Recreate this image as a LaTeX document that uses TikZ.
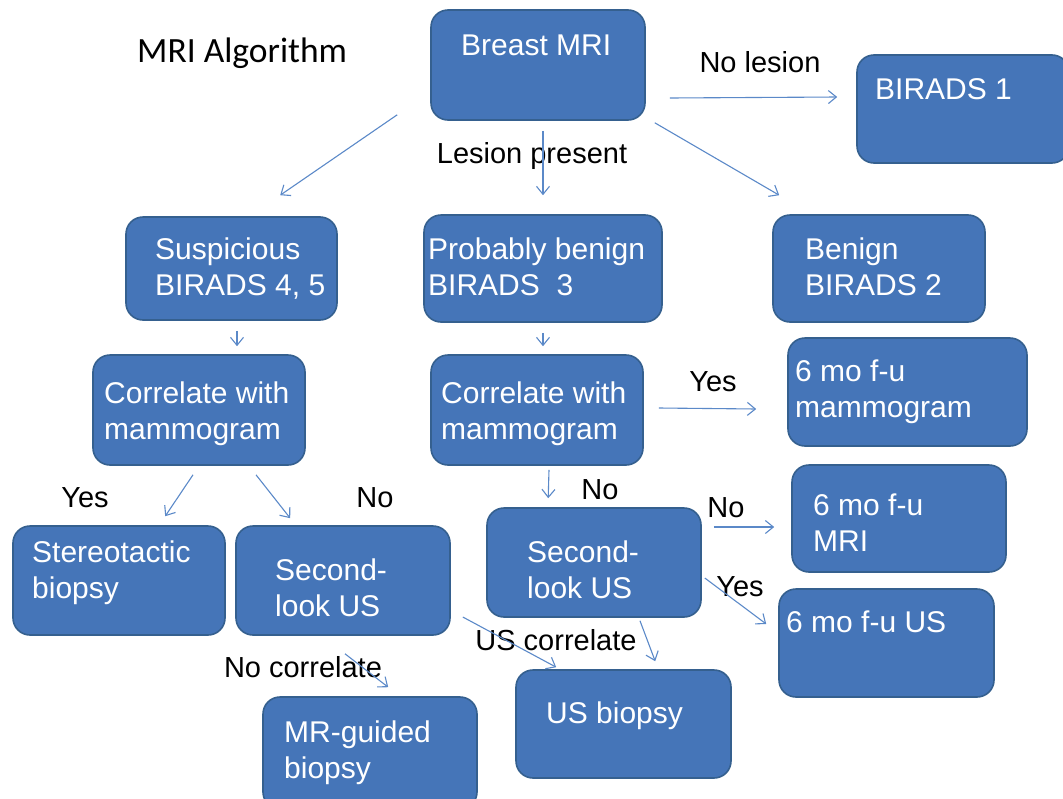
\documentclass[tikz,border=0pt]{standalone}
\usepackage{fontspec}
\setmainfont{Liberation Sans}
\newfontfamily\titlefont{Carlito}
\usetikzlibrary{arrows.meta}
\definecolor{boxfill}{HTML}{4575B8}
\definecolor{boxline}{HTML}{35608F}
\definecolor{arrowblue}{HTML}{5B89C8}
\tikzset{
  panel/.style={draw=boxline, line width=1.6pt, fill=boxfill, rounded corners=17pt, inner sep=0pt},
  boxtext/.style={text=white, align=left, anchor=base west, inner sep=0pt, font=\fontsize{30}{36}\selectfont},
  tag/.style={text=black, anchor=base, inner sep=0pt, font=\fontsize{29}{34}\selectfont},
  link/.style={draw=arrowblue, line width=1.1pt, -{Straight Barb[length=8pt,width=13pt,line width=1.1pt]}}
}
\begin{document}
\begin{tikzpicture}[x=1pt,y=-1pt]
\useasboundingbox (0,0) rectangle (1063,798);

% boxes
\node[panel, minimum width=214pt, minimum height=110pt] (mri) at (538,65) {};
\node[panel, minimum width=212pt, minimum height=108pt] (b1) at (963,109) {};
\node[panel, minimum width=211pt, minimum height=103pt] (susp) at (231.5,268.5) {};
\node[panel, minimum width=238pt, minimum height=107pt] (prob) at (543,268.5) {};
\node[panel, minimum width=212pt, minimum height=107pt] (ben) at (879,268.5) {};
\node[panel, minimum width=212pt, minimum height=110pt] (corL) at (199,410) {};
\node[panel, minimum width=212pt, minimum height=110pt] (corM) at (537,410) {};
\node[panel, minimum width=239pt, minimum height=108pt] (fmam) at (907.5,392) {};
\node[panel, minimum width=212pt, minimum height=109pt] (ster) at (119,580.5) {};
\node[panel, minimum width=214pt, minimum height=109pt] (slL) at (343,580.5) {};
\node[panel, minimum width=214pt, minimum height=109pt] (slM) at (594,562.5) {};
\node[panel, minimum width=214pt, minimum height=107pt] (fmri) at (899,518.5) {};
\node[panel, minimum width=215pt, minimum height=108pt] (fus) at (886.5,643) {};
\node[panel, minimum width=214pt, minimum height=112pt] (mrg) at (370,753) {};
\node[panel, minimum width=215pt, minimum height=108pt] (usb) at (623.5,724) {};

% box texts (anchored on the baseline of the last line)
\node[boxtext] (tmri) at (461,55) {Breast MRI};
\node[boxtext] (tb1) at (875,99) {BIRADS 1};
\node[boxtext] (tsusp) at (155,295) {Suspicious\\BIRADS 4, 5};
\node[boxtext] (tprob) at (428,295) {Probably benign\\BIRADS\ \ 3};
\node[boxtext] (tben) at (805,295) {Benign\\BIRADS 2};
\node[boxtext] (tcorL) at (104,439) {Correlate with\\mammogram};
\node[boxtext] (tcorM) at (441,439) {Correlate with\\mammogram};
\node[boxtext] (tfmam) at (795,417) {6 mo f-u\\mammogram};
\node[boxtext] (tster) at (32,598) {Stereotactic\\biopsy};
\node[boxtext] (tslL) at (275,616) {Second-\\look US};
\node[boxtext] (tslM) at (527,598) {Second-\\look US};
\node[boxtext] (tfmri) at (813,551) {6 mo f-u\\MRI};
\node[boxtext] (tfus) at (786,632) {6 mo f-u US};
\node[boxtext] (tmrg) at (284,778) {MR-guided\\biopsy};
\node[boxtext] (tusb) at (546,723) {US biopsy};

% free labels
\node[tag, anchor=base west, font=\titlefont\fontsize{35.5}{40}\selectfont] (title) at (137,62) {MRI Algorithm};
\node[tag] (lnol) at (760,72) {No lesion};
\node[tag] (lpres) at (532,163) {Lesion present};
\node[tag] (lyes1) at (713,391) {Yes};
\node[tag] (lyes2) at (85,507) {Yes};
\node[tag] (lno1) at (375,507) {No};
\node[tag] (lno2) at (600,499) {No};
\node[tag] (lno3) at (726,517) {No};
\node[tag] (lyes3) at (740,596) {Yes};
\node[tag] (lusc) at (556,650) {US correlate};
\node[tag] (lnoc) at (303,677) {No correlate};

% connectors
\draw[link] ([shift={(-33,-6)}]mri.south west) -- ([shift={(155,-21)}]susp.north west);
\draw[link] ([shift={(0,10)}]mri.south -| prob.north) -- ([shift={(0,-19)}]prob.north);
\draw[link] ([shift={(24,33)}]mri.east) -- ([shift={(-19,-12)}]b1.west);
\draw[link] ([shift={(9,2)}]mri.south east) -- ([shift={(7,-19)}]ben.north west);
\draw[link] ([shift={(5.5,10)}]susp.south) -- ([shift={(38,-8)}]corL.north);
\draw[link] ([shift={(0,10)}]prob.south) -- ([shift={(6,-8)}]corM.north);
\draw[link] ([shift={(15,-2)}]corM.east) -- ([shift={(-31,17)}]fmam.west);
\draw[link] ([shift={(-6,9)}]corL.south) -- ([shift={(153,-9)}]ster.north west);
\draw[link] ([shift={(57,9)}]corL.south) -- ([shift={(55,-7)}]slL.north west);
\draw[link] ([shift={(12,4)}]corM.south) -- ([shift={(62,-9)}]slM.north west);
\draw[link] ([shift={(12,-35.5)}]slM.east) -- ([shift={(-17,8.5)}]fmri.west);
\draw[link] ([shift={(3,15.5)}]slM.east) -- ([shift={(-12,-19)}]fus.west);
\draw[link] ([shift={(46,3)}]slM.south) -- ([shift={(140,-8)}]usb.north west);
\draw[link] ([shift={(12,36.5)}]slL.east) -- ([shift={(41,-2)}]usb.north west);
\draw[link] ([shift={(2,18)}]slL.south) -- ([shift={(126,-9)}]mrg.north west);
\end{tikzpicture}
\end{document}
